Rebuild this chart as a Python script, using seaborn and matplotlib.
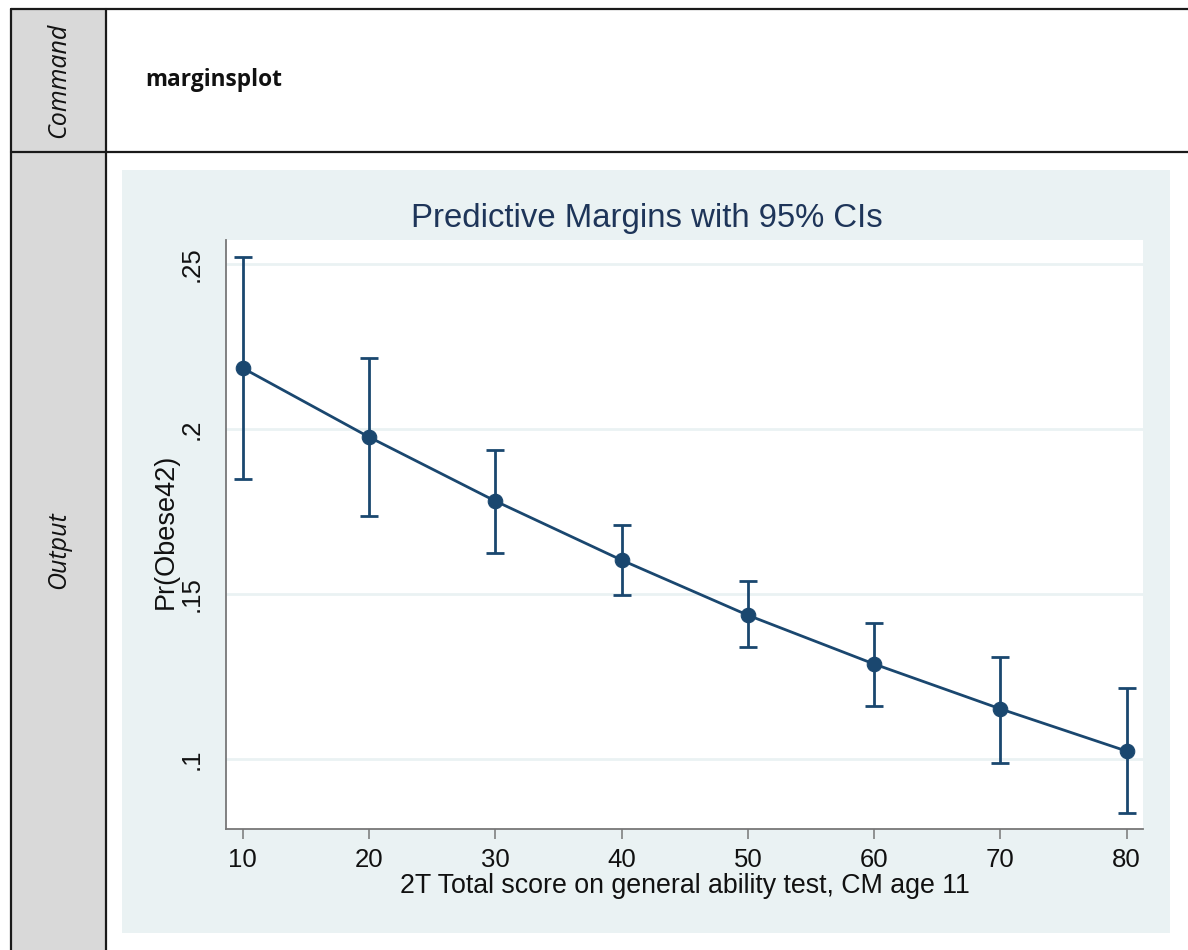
import numpy as np
import pandas as pd
import matplotlib
matplotlib.use("Agg")
import matplotlib.pyplot as plt
from matplotlib.patches import Rectangle
from matplotlib.lines import Line2D
import seaborn as sns

scores = [10, 20, 30, 40, 50, 60, 70, 80]
margins = [0.2185, 0.1976, 0.1782, 0.1603, 0.1436, 0.1288, 0.1152, 0.1024]
ci_low = [0.1848, 0.1736, 0.1624, 0.1497, 0.1339, 0.1161, 0.0988, 0.0836]
ci_high = [0.2521, 0.2215, 0.1936, 0.1709, 0.1539, 0.1412, 0.1309, 0.1215]
y_ticks = [0.1, 0.15, 0.2, 0.25]
y_tick_labels = [".1", ".15", ".2", ".25"]

navy = "#1a476f"
panel_bg = "#eaf2f3"
W, H = 1188, 950

sns.set_style("white")
plt.rcParams["font.family"] = ["Liberation Sans", "DejaVu Sans"]

fig = plt.figure(figsize=(W / 100, H / 100), dpi=100)


def fx(px):
    return px / W


def fy(py):
    return 1 - py / H


# table layout around the chart
fig.add_artist(Rectangle((fx(11), 0), fx(106) - fx(11), fy(9), transform=fig.transFigure,
                         facecolor="#d9d9d9", edgecolor="none", zorder=0))
fig.add_artist(Rectangle((fx(122), fy(933)), fx(1170) - fx(122), fy(170) - fy(933),
                         transform=fig.transFigure, facecolor=panel_bg, edgecolor="none", zorder=0))
for xs, ys in [([fx(11), fx(11)], [0, fy(9)]),
               ([fx(106), fx(106)], [0, fy(9)]),
               ([fx(11), 1], [fy(9), fy(9)]),
               ([fx(11), 1], [fy(152), fy(152)])]:
    fig.add_artist(Line2D(xs, ys, transform=fig.transFigure, color="#1a1a1a", lw=1.6))

label_font = ["Open Sans", "DejaVu Sans"]
fig.text(fx(59), fy(80), "Command", rotation=90, ha="center", va="center",
         fontsize=18, fontstyle="italic", color="#111111", family=label_font)
fig.text(fx(59), fy(550), "Output", rotation=90, ha="center", va="center",
         fontsize=18, fontstyle="italic", color="#111111", family=label_font)
fig.text(fx(145), fy(80), "marginsplot", ha="left", va="center",
         fontsize=16.3, fontweight="bold", color="#111111", family=label_font)

fig.text(fx(647), fy(218), "Predictive Margins with 95% CIs", ha="center", va="center",
         fontsize=23.7, color="#1e3559")

# the plot region
ax = fig.add_axes([fx(226), fy(829), fx(1143) - fx(226), fy(240) - fy(829)])
ax.set_facecolor("white")

df = pd.DataFrame({"score": scores, "margin": margins, "lo": ci_low, "hi": ci_high})

ax.errorbar(df["score"], df["margin"],
            yerr=[df["margin"] - df["lo"], df["hi"] - df["margin"]],
            fmt="none", ecolor=navy, elinewidth=2, capsize=6.5, capthick=2, zorder=3)
sns.lineplot(data=df, x="score", y="margin", ax=ax, color=navy, lw=2,
             marker="o", markersize=10.5, markeredgecolor=navy, zorder=4)

ax.set_xlim(8.68, 81.29)
ax.set_ylim(0.0788, 0.2573)
ax.set_xticks(scores)
ax.set_yticks(y_ticks)
ax.set_yticklabels(y_tick_labels, rotation=90, va="center")
ax.grid(axis="y", color=panel_bg, lw=2)
ax.set_axisbelow(True)

for side in ["top", "right"]:
    ax.spines[side].set_visible(False)
for side in ["left", "bottom"]:
    ax.spines[side].set_color("#777777")
    ax.spines[side].set_linewidth(1.3)

ax.tick_params(axis="both", which="major", direction="out", length=7, width=1.1,
               color="#777777", labelsize=18.5, labelcolor="#111111")
ax.tick_params(axis="y", pad=9)
ax.tick_params(axis="x", pad=7, left=True, bottom=True)

ax.set_xlabel("2T Total score on general ability test, CM age 11", fontsize=19.3, color="#111111")
ax.set_ylabel("Pr(Obese42)", fontsize=19.5, color="#111111")
ax.xaxis.set_label_coords(0.5, -0.075)
ax.yaxis.set_label_coords(-0.051, 0.505)

fig.savefig("out.png", dpi=100)
